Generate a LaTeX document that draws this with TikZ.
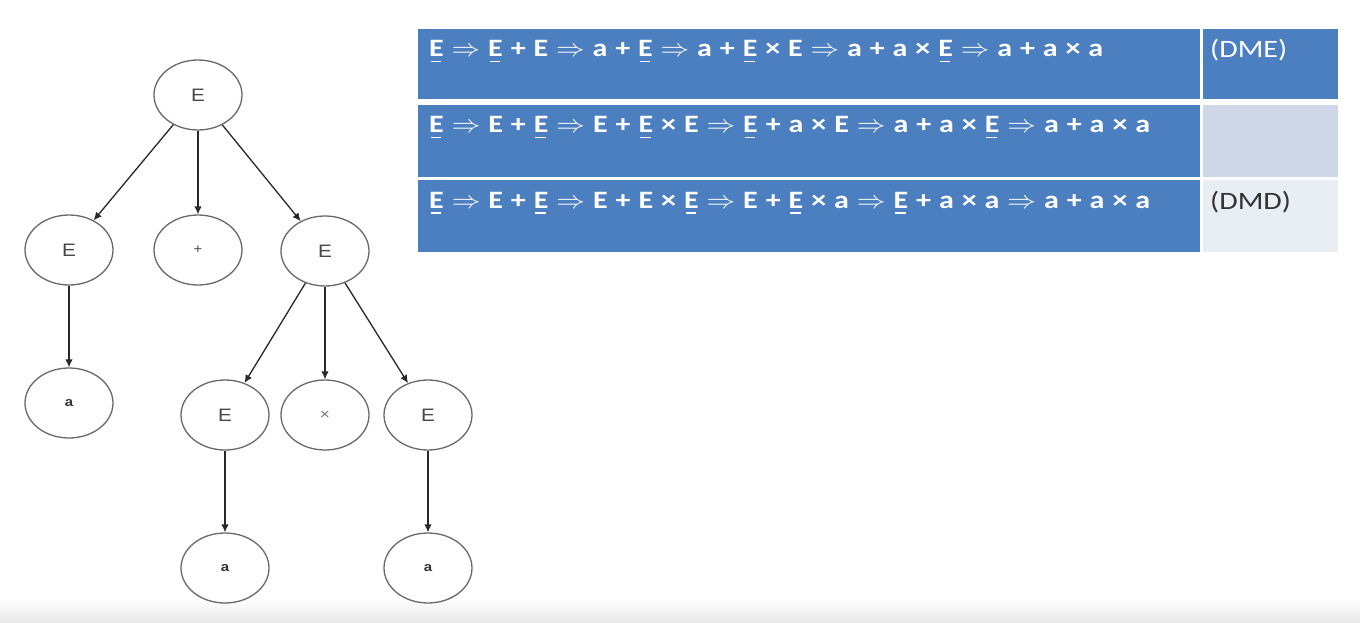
\documentclass[tikz,border=0pt]{standalone}
\usepackage{fontspec}
\usepackage{graphicx}
\setmainfont{Carlito}[FakeStretch=1.2]
\newfontfamily\treefont{Liberation Sans}[FakeStretch=1.15]
\usetikzlibrary{arrows.meta,shapes.geometric}
\definecolor{tblue}{RGB}{76,127,191}
\definecolor{tgrey}{RGB}{207,215,230}
\definecolor{tlight}{RGB}{233,237,244}
\definecolor{ecol}{RGB}{105,105,105}
\definecolor{acol}{RGB}{40,40,40}
\newcommand\uE{\leavevmode\rlap{\hspace{1.6pt}\rule[-5.5pt]{10.5pt}{1.8pt}}E}
\newcommand\dimp{\scalebox{1.15}[1]{$\Rightarrow$}}
\begin{document}
\begin{tikzpicture}[x=1pt,y=-1pt,
  tnode/.style={ellipse, draw=ecol, line width=1.3pt, minimum width=88pt, minimum height=70pt,
    inner sep=0pt, font=\treefont\fontsize{18}{18}\selectfont, text=black!72},
  small/.style={font=\treefont\fontsize{13}{13}\selectfont},
  leaf/.style={font=\treefont\fontsize{13}{13}\selectfont\bfseries, text=black!80},
  edge/.style={draw=acol, line width=1.3pt, -{Latex[length=8pt,width=7.5pt]}},
  rowtext/.style={anchor=base west, inner sep=0pt, text=white, font=\fontsize{25}{25}\selectfont\bfseries},
  tagtext/.style={anchor=base west, inner sep=0pt, font=\fontsize{25}{25}\selectfont}
]
\useasboundingbox (0,0) rectangle (1360,623);
\fill[white] (0,0) rectangle (1360,623);
\shade[top color=white, bottom color=black!9] (0,598) rectangle (1360,623);

% tree
\node[tnode] (r) at (198,95) {E};
\node[tnode] (e1) at (69,250) {E};
\node[tnode,small] (p) at (198,250) {+};
\node[tnode] (e2) at (325,251) {E};
\node[tnode,leaf] (a1) at (69,403) {a};
\node[tnode] (e3) at (225,415) {E};
\node[tnode,small,text=black!55,font=\treefont\fontsize{15}{15}\selectfont] (t) at (325,415) {×};
\node[tnode] (e4) at (428,415) {E};
\node[tnode,leaf] (a2) at (225,568) {a};
\node[tnode,leaf] (a3) at (428,568) {a};

\draw[edge] (r) -- (e1);
\draw[edge] (r) -- (p);
\draw[edge] (r) -- (e2);
\draw[edge] (e1) -- (a1);
\draw[edge] (e2) -- (e3);
\draw[edge] (e2) -- (t);
\draw[edge] (e2) -- (e4);
\draw[edge] (e3) -- (a2);
\draw[edge] (e4) -- (a3);

% table
\fill[tblue] (418,29) rectangle (1200,99);
\fill[tblue] (1203,29) rectangle (1338,99);
\fill[tblue] (418,105) rectangle (1200,177);
\fill[tgrey] (1203,105) rectangle (1338,177);
\fill[tblue] (418,180) rectangle (1200,252);
\fill[tlight] (1203,180) rectangle (1338,252);

\node[rowtext] (t1) at (429,57) {\makebox[674pt][s]{\uE{} \dimp{} \uE{} + E \dimp{} a + \uE{} \dimp{} a + \uE{} × E \dimp{} a + a × \uE{} \dimp{} a + a × a}};
\node[rowtext] (t2) at (429,133) {\makebox[721pt][s]{\uE{} \dimp{} E + \uE{} \dimp{} E + \uE{} × E \dimp{} \uE{} + a × E \dimp{} a + a × \uE{} \dimp{} a + a × a}};
\node[rowtext] (t3) at (429,208) {\makebox[721pt][s]{\uE{} \dimp{} E + \uE{} \dimp{} E + E × \uE{} \dimp{} E + \uE{} × a \dimp{} \uE{} + a × a \dimp{} a + a × a}};

\node[tagtext, text=white] (dme) at (1210,58) {(DME)};
\node[tagtext, text=black!80] (dmd) at (1210,209) {(DMD)};
\end{tikzpicture}
\end{document}
